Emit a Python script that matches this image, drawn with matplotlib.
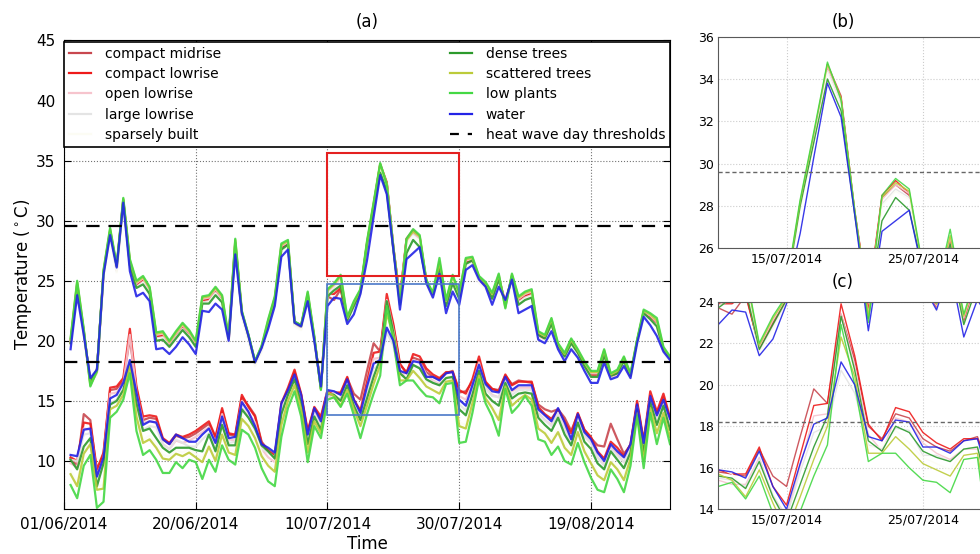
import matplotlib.pyplot as plt
import matplotlib.dates as mdates
from matplotlib.lines import Line2D
from matplotlib.patches import Rectangle
import pandas as pd

# one value per day, 01/06/2014 - 31/08/2014
days = pd.date_range('2014-06-01', periods=92, freq='D')

# daily maximum temperature per local climate zone
compact_midrise_max = [19.9, 24.7, 20.7, 16.5, 17.6, 25.6, 29.1, 26.1, 31.7, 26.5,
                       24.7, 25.1, 24.2, 20.4, 20.5, 19.7, 20.5, 21.2, 20.6, 19.7,
                       23.4, 23.5, 24.2, 23.5, 20.1, 28.2, 22.3, 20.3, 18.2, 19.4,
                       21.5, 23.4, 27.8, 28.1, 21.5, 21.2, 23.8, 20.2, 16.1, 23.7,
                       23.4, 24.3, 21.8, 23.0, 24.1, 28.1, 31.3, 34.7, 33.2, 27.8,
                       23.5, 28.4, 29.0, 28.5, 25.0, 23.8, 26.4, 23.1, 25.2, 23.7,
                       26.6, 26.7, 25.1, 24.6, 23.7, 25.3, 23.1, 25.3, 23.4, 23.8,
                       24.0, 20.5, 20.2, 21.6, 19.6, 18.7, 19.9, 19.0, 18.0, 17.2,
                       17.2, 19.0, 17.1, 17.3, 18.4, 17.1, 19.9, 22.4, 22.0, 21.5,
                       19.3, 18.5]
compact_lowrise_max = [19.8, 24.6, 20.6, 16.6, 17.5, 25.5, 29.0, 25.9, 31.6, 26.4,
                       24.6, 25.0, 24.1, 20.3, 20.4, 19.6, 20.4, 21.1, 20.5, 19.6,
                       23.3, 23.4, 24.1, 23.4, 20.0, 28.1, 22.2, 20.2, 18.1, 19.3,
                       21.4, 23.3, 27.7, 28.0, 21.4, 21.1, 23.7, 20.1, 16.2, 23.9,
                       23.9, 24.4, 21.7, 22.9, 24.0, 28.0, 31.2, 34.6, 33.1, 27.7,
                       23.6, 28.5, 29.2, 28.6, 24.9, 23.7, 26.3, 23.0, 25.1, 23.6,
                       26.5, 26.6, 25.0, 24.5, 23.6, 25.2, 23.2, 25.2, 23.3, 23.7,
                       23.9, 20.4, 20.1, 21.5, 19.5, 18.6, 19.8, 18.9, 17.9, 17.1,
                       17.1, 18.9, 17.0, 17.2, 18.3, 17.0, 19.8, 22.3, 21.9, 21.4,
                       19.2, 18.4]
open_lowrise_max = [20.0, 24.8, 20.8, 16.5, 17.5, 25.7, 29.2, 26.1, 31.8, 26.6,
                    24.8, 25.2, 24.3, 20.5, 20.6, 19.8, 20.6, 21.3, 20.7, 19.8,
                    23.5, 23.6, 24.3, 23.6, 20.1, 28.3, 22.3, 20.3, 18.2, 19.4,
                    21.6, 23.5, 27.9, 28.2, 21.5, 21.2, 23.9, 20.2, 16.1, 24.1,
                    24.6, 25.3, 21.8, 23.1, 24.2, 28.1, 31.3, 34.6, 33.0, 27.7,
                    23.4, 28.3, 29.0, 28.6, 25.0, 23.8, 26.5, 23.2, 25.3, 23.8,
                    26.7, 26.8, 25.2, 24.7, 23.8, 25.4, 23.0, 25.4, 23.5, 23.9,
                    24.1, 20.6, 20.3, 21.7, 19.6, 18.8, 20.0, 19.1, 18.1, 17.3,
                    17.3, 19.1, 17.1, 17.4, 18.5, 17.1, 19.9, 22.4, 22.1, 21.6,
                    19.3, 18.5]
large_lowrise_max = [19.7, 24.5, 20.5, 16.4, 17.3, 25.4, 28.9, 25.8, 31.5, 26.3,
                     24.5, 24.9, 24.0, 20.2, 20.3, 19.5, 20.3, 21.0, 20.4, 19.5,
                     23.2, 23.3, 24.0, 23.3, 19.9, 28.0, 22.1, 20.1, 18.0, 19.2,
                     21.3, 23.2, 27.6, 27.9, 21.3, 21.0, 23.6, 20.0, 16.0, 23.8,
                     24.3, 25.0, 21.6, 22.8, 24.0, 27.9, 31.1, 34.4, 32.8, 27.6,
                     23.2, 28.1, 28.8, 28.4, 24.8, 23.6, 26.2, 22.9, 25.0, 23.5,
                     26.4, 26.5, 24.9, 24.4, 23.5, 25.1, 22.9, 25.1, 23.2, 23.6,
                     23.8, 20.3, 20.0, 21.4, 19.4, 18.5, 19.7, 18.8, 17.8, 17.0,
                     17.0, 18.8, 16.9, 17.1, 18.2, 16.9, 19.7, 22.2, 21.8, 21.3,
                     19.1, 18.3]
sparsely_built_max = [19.6, 24.4, 20.4, 16.5, 17.4, 25.3, 28.8, 25.7, 31.4, 26.2,
                      24.4, 24.8, 23.9, 20.1, 20.2, 19.4, 20.2, 20.9, 20.3, 19.4,
                      23.1, 23.2, 23.9, 23.2, 19.8, 27.9, 22.0, 20.0, 17.9, 19.1,
                      21.2, 23.1, 27.5, 27.8, 21.2, 20.9, 23.5, 19.9, 16.1, 23.7,
                      24.2, 24.9, 21.5, 22.7, 23.9, 27.8, 31.0, 34.3, 32.7, 27.5,
                      23.1, 28.0, 28.7, 28.3, 24.7, 23.5, 26.1, 22.8, 24.9, 23.4,
                      26.3, 26.4, 24.8, 24.3, 23.4, 25.0, 23.0, 25.0, 23.1, 23.5,
                      23.7, 20.2, 19.9, 21.3, 19.3, 18.4, 19.6, 18.7, 17.7, 16.9,
                      16.9, 18.7, 16.8, 17.0, 18.1, 16.8, 19.6, 22.1, 21.7, 21.2,
                      19.0, 18.2]
dense_trees_max = [19.8, 24.4, 20.8, 16.6, 17.6, 25.7, 29.1, 26.2, 31.7, 26.3,
                   24.4, 24.7, 23.9, 20.0, 20.1, 19.5, 20.2, 20.9, 20.3, 19.5,
                   23.1, 23.1, 23.8, 23.2, 20.2, 27.9, 22.4, 20.5, 18.3, 19.5,
                   21.4, 23.3, 27.6, 28.0, 21.6, 21.3, 23.7, 20.2, 16.0, 23.7,
                   24.2, 24.6, 21.7, 22.9, 24.1, 28.0, 31.0, 34.0, 32.5, 27.6,
                   23.2, 27.3, 28.4, 27.8, 25.0, 23.9, 26.2, 22.9, 24.8, 23.5,
                   26.4, 26.7, 25.3, 24.7, 23.5, 25.1, 23.1, 25.4, 23.0, 23.4,
                   23.6, 20.5, 20.2, 21.4, 19.6, 18.7, 19.8, 19.0, 17.9, 17.0,
                   17.0, 18.8, 17.1, 17.3, 18.3, 17.1, 20.0, 22.3, 21.8, 21.2,
                   19.3, 18.6]
scattered_trees_max = [20.1, 24.9, 20.9, 16.3, 17.4, 25.8, 29.3, 26.2, 31.8, 26.7,
                       24.9, 25.3, 24.4, 20.6, 20.7, 19.9, 20.7, 21.4, 20.8, 19.9,
                       23.6, 23.7, 24.4, 23.7, 20.2, 28.4, 22.4, 20.4, 18.2, 19.5,
                       21.7, 23.6, 28.0, 28.3, 21.5, 21.2, 24.0, 20.3, 16.0, 24.2,
                       24.7, 25.4, 21.9, 23.2, 24.2, 28.2, 31.4, 34.7, 33.1, 27.8,
                       23.3, 28.4, 29.1, 28.7, 25.0, 23.9, 26.6, 23.3, 25.4, 23.9,
                       26.8, 26.9, 25.3, 24.8, 23.9, 25.5, 22.8, 25.5, 23.6, 24.0,
                       24.2, 20.7, 20.4, 21.8, 19.7, 18.9, 20.1, 19.2, 18.2, 17.4,
                       17.4, 19.2, 17.2, 17.5, 18.6, 17.2, 20.0, 22.5, 22.2, 21.7,
                       19.4, 18.6]
low_plants_max = [20.2, 25.0, 21.0, 16.2, 17.5, 25.9, 29.4, 26.3, 31.9, 26.8,
                  25.0, 25.4, 24.5, 20.7, 20.8, 20.0, 20.8, 21.5, 20.9, 20.0,
                  23.7, 23.8, 24.5, 23.8, 20.3, 28.5, 22.5, 20.5, 18.3, 19.6,
                  21.8, 23.7, 28.1, 28.4, 21.6, 21.3, 24.1, 20.4, 15.9, 24.3,
                  24.8, 25.5, 22.0, 23.3, 24.3, 28.3, 31.5, 34.8, 33.0, 27.8,
                  23.0, 28.5, 29.3, 28.8, 25.1, 24.0, 26.9, 23.4, 25.5, 24.0,
                  26.9, 27.0, 25.4, 24.9, 24.0, 25.6, 22.7, 25.6, 23.7, 24.1,
                  24.3, 20.8, 20.5, 21.9, 19.8, 19.0, 20.2, 19.3, 18.3, 17.5,
                  17.5, 19.3, 17.3, 17.6, 18.7, 17.3, 20.1, 22.6, 22.3, 21.9,
                  19.5, 18.7]
water_max = [19.3, 23.8, 20.5, 16.9, 17.6, 25.5, 28.8, 26.1, 31.5, 25.8,
             23.7, 24.0, 23.3, 19.3, 19.4, 18.9, 19.5, 20.3, 19.7, 18.9,
             22.5, 22.4, 23.1, 22.6, 20.0, 27.2, 22.3, 20.4, 18.2, 19.4,
             21.0, 22.9, 27.0, 27.6, 21.5, 21.2, 23.3, 20.0, 16.2, 22.9,
             23.6, 23.5, 21.4, 22.2, 23.9, 26.7, 30.3, 33.8, 32.2, 27.6,
             22.6, 26.8, 27.3, 27.8, 24.8, 23.6, 25.6, 22.3, 24.1, 23.0,
             25.9, 26.3, 25.1, 24.5, 23.0, 24.5, 23.4, 25.1, 22.3, 22.6,
             22.9, 20.1, 19.8, 20.8, 19.3, 18.3, 19.3, 18.6, 17.5, 16.5,
             16.5, 18.2, 16.8, 17.0, 17.9, 16.9, 19.8, 22.0, 21.3, 20.4,
             19.1, 18.4]

# daily minimum temperature per local climate zone
compact_midrise_min = [10.2, 9.6, 13.9, 13.4, 8.9, 10.6, 15.9, 16.0, 16.7, 20.2,
                       16.0, 13.4, 13.6, 13.5, 11.8, 11.4, 12.1, 11.9, 12.0, 12.3,
                       12.7, 13.1, 11.9, 14.2, 12.2, 12.1, 15.3, 14.6, 13.8, 11.6,
                       10.9, 10.5, 14.6, 15.9, 17.4, 15.5, 12.4, 14.4, 13.5, 15.8,
                       15.7, 15.6, 16.9, 15.6, 15.1, 17.5, 19.8, 19.1, 23.4, 21.2,
                       18.0, 17.4, 18.6, 18.4, 17.4, 17.0, 16.8, 17.3, 17.5, 15.7,
                       15.8, 16.6, 18.4, 16.5, 16.0, 15.9, 17.1, 16.4, 16.7, 16.6,
                       16.5, 14.7, 14.3, 14.1, 14.3, 13.6, 12.5, 13.9, 12.6, 11.9,
                       11.3, 11.2, 13.1, 11.8, 10.6, 11.3, 14.8, 11.6, 15.4, 13.9,
                       15.3, 13.4]
compact_lowrise_min = [10.3, 10.0, 13.2, 13.1, 9.3, 10.7, 16.1, 16.2, 16.9, 21.0,
                       16.2, 13.7, 13.8, 13.7, 11.9, 11.5, 12.2, 12.0, 12.2, 12.5,
                       12.9, 13.3, 12.0, 14.4, 12.3, 12.2, 15.5, 14.5, 13.7, 11.5,
                       10.8, 10.4, 14.8, 16.1, 17.6, 15.6, 12.5, 14.5, 13.7, 15.9,
                       15.7, 15.7, 17.0, 15.1, 14.2, 16.6, 19.0, 19.1, 23.9, 21.4,
                       18.1, 17.3, 18.9, 18.7, 17.7, 17.2, 16.9, 17.4, 17.4, 15.9,
                       15.6, 16.8, 18.7, 16.6, 16.0, 15.8, 17.2, 16.3, 16.6, 16.6,
                       16.6, 14.5, 13.9, 13.5, 14.3, 13.3, 12.3, 14.0, 12.6, 12.0,
                       10.8, 10.2, 11.6, 11.1, 10.4, 11.4, 15.0, 11.7, 15.8, 14.1,
                       15.6, 13.6]
open_lowrise_min = [9.8, 9.5, 12.7, 12.6, 8.8, 10.2, 15.6, 15.7, 16.4, 20.5,
                    15.7, 13.2, 13.3, 13.2, 11.4, 11.0, 11.7, 11.5, 11.7, 12.0,
                    12.4, 12.8, 11.5, 13.9, 11.8, 11.7, 15.0, 14.0, 13.2, 11.0,
                    10.3, 9.9, 14.3, 15.6, 17.1, 15.1, 12.0, 14.0, 13.2, 15.4,
                    15.2, 15.2, 16.5, 14.6, 13.7, 16.1, 18.5, 18.6, 23.4, 20.9,
                    17.6, 16.8, 18.4, 18.2, 17.2, 16.7, 16.4, 16.9, 16.9, 15.4,
                    15.1, 16.3, 18.2, 16.1, 15.5, 15.3, 16.7, 15.8, 16.1, 16.1,
                    16.1, 14.0, 13.4, 13.0, 13.8, 12.8, 11.8, 13.5, 12.1, 11.5,
                    10.3, 9.7, 11.2, 10.6, 9.9, 10.9, 14.5, 11.1, 15.3, 13.6,
                    15.0, 13.0]
large_lowrise_min = [10.1, 10.0, 12.2, 12.3, 8.3, 9.9, 14.8, 15.1, 16.1, 18.0,
                     15.3, 12.6, 12.9, 12.8, 11.4, 11.0, 11.8, 11.5, 11.2, 11.2,
                     11.8, 12.3, 11.1, 13.3, 11.5, 11.6, 14.5, 13.7, 12.5, 11.0,
                     10.7, 10.3, 14.4, 15.5, 16.8, 15.1, 11.8, 14.0, 12.9, 15.5,
                     15.4, 15.1, 16.4, 14.7, 13.6, 15.8, 17.7, 18.0, 20.7, 19.6,
                     17.1, 16.9, 17.9, 17.8, 16.6, 16.6, 16.3, 16.9, 17.0, 14.7,
                     14.2, 15.9, 17.6, 16.0, 15.4, 15.3, 16.6, 15.5, 15.9, 15.9,
                     15.9, 13.9, 13.4, 12.9, 14.0, 12.6, 11.6, 13.5, 12.0, 11.5,
                     10.3, 9.6, 11.0, 10.4, 9.9, 11.0, 14.4, 11.1, 15.0, 13.4,
                     14.7, 13.0]
sparsely_built_min = [9.2, 8.2, 10.9, 11.7, 7.9, 8.0, 14.6, 14.9, 15.8, 18.2,
                      14.0, 11.8, 12.1, 11.4, 10.5, 10.4, 10.9, 10.7, 11.0, 10.6,
                      10.2, 11.5, 10.3, 12.5, 11.0, 10.8, 13.8, 13.2, 12.2, 10.7,
                      9.9, 9.4, 13.3, 15.3, 16.6, 14.6, 11.0, 13.6, 12.6, 16.0,
                      15.7, 14.9, 16.2, 14.6, 13.2, 14.9, 16.7, 18.3, 22.6, 20.7,
                      17.0, 17.0, 17.8, 17.2, 16.5, 16.2, 15.9, 16.9, 17.0, 13.2,
                      13.0, 15.1, 17.4, 15.5, 14.7, 13.7, 16.5, 14.9, 15.4, 15.8,
                      15.4, 13.0, 12.6, 11.8, 12.7, 11.4, 10.8, 12.7, 11.1, 10.1,
                      9.1, 8.7, 10.2, 9.6, 8.7, 10.5, 14.3, 10.3, 14.7, 12.6,
                      14.3, 12.3]
dense_trees_min = [10.1, 9.3, 11.2, 11.9, 7.9, 9.8, 14.7, 15.0, 15.9, 18.1,
                   14.8, 12.5, 12.7, 11.9, 11.1, 10.7, 11.1, 11.1, 11.1, 10.9,
                   10.8, 12.2, 10.8, 13.0, 11.3, 11.3, 14.3, 13.6, 12.7, 11.3,
                   10.8, 10.2, 13.9, 15.5, 16.8, 14.8, 11.4, 13.7, 12.6, 15.6,
                   15.5, 15.0, 16.3, 14.6, 13.4, 15.2, 17.0, 18.5, 23.3, 20.7,
                   17.3, 16.8, 18.0, 17.7, 16.8, 16.5, 16.3, 16.9, 17.0, 14.3,
                   13.8, 15.5, 17.5, 15.6, 15.0, 14.6, 16.5, 15.2, 15.6, 15.7,
                   15.6, 13.6, 13.0, 12.5, 13.6, 12.2, 11.3, 13.2, 11.6, 11.0,
                   9.8, 9.3, 10.8, 10.1, 9.4, 10.7, 14.3, 10.6, 14.9, 13.0,
                   14.6, 12.6]
scattered_trees_min = [8.9, 7.9, 10.6, 11.4, 7.6, 7.7, 14.3, 14.6, 15.5, 17.9,
                       13.7, 11.5, 11.8, 11.1, 10.2, 10.1, 10.6, 10.4, 10.7, 10.3,
                       9.9, 11.2, 10.0, 12.2, 10.7, 10.5, 13.5, 12.9, 11.9, 10.4,
                       9.6, 9.1, 13.0, 15.0, 16.3, 14.3, 10.7, 13.3, 12.3, 15.7,
                       15.4, 14.6, 15.9, 14.3, 12.9, 14.6, 16.4, 18.0, 22.3, 20.4,
                       16.7, 16.7, 17.5, 16.9, 16.2, 15.9, 15.6, 16.6, 16.7, 12.9,
                       12.7, 14.8, 17.1, 15.2, 14.4, 13.4, 16.2, 14.6, 15.1, 15.5,
                       15.1, 12.7, 12.3, 11.5, 12.4, 11.1, 10.5, 12.4, 10.8, 9.8,
                       8.8, 8.4, 9.9, 9.3, 8.4, 10.2, 14.0, 10.0, 14.4, 12.3,
                       14.0, 12.0]
low_plants_min = [8.0, 6.9, 9.6, 10.5, 6.1, 6.6, 13.6, 14.1, 15.1, 17.3,
                  12.5, 10.5, 10.9, 10.1, 9.0, 9.0, 9.9, 9.4, 10.1, 9.9,
                  8.5, 10.1, 9.1, 11.3, 10.1, 9.7, 12.6, 12.2, 11.1, 9.4,
                  8.3, 7.9, 12.0, 14.4, 15.8, 13.7, 9.9, 12.9, 11.9, 15.1,
                  15.3, 14.5, 15.6, 13.8, 11.9, 13.9, 15.6, 17.1, 22.9, 20.0,
                  16.3, 16.7, 16.7, 16.0, 15.4, 15.3, 14.8, 16.4, 16.5, 11.5,
                  11.6, 14.0, 16.8, 14.8, 13.7, 12.1, 16.0, 14.0, 14.6, 15.4,
                  14.6, 11.8, 11.6, 10.5, 11.2, 10.0, 9.7, 11.5, 9.9, 8.6,
                  7.6, 7.4, 9.3, 8.5, 7.4, 9.6, 13.8, 9.4, 14.0, 11.4,
                  13.6, 11.4]
water_min = [10.5, 10.4, 12.6, 12.7, 8.7, 10.3, 15.2, 15.5, 16.5, 18.4,
             15.7, 13.0, 13.3, 13.2, 11.8, 11.4, 12.2, 11.9, 11.6, 11.6,
             12.2, 12.7, 11.5, 13.7, 11.9, 12.0, 14.9, 14.1, 12.9, 11.4,
             11.1, 10.7, 14.8, 15.9, 17.2, 15.5, 12.2, 14.4, 13.3, 15.9,
             15.8, 15.5, 16.8, 15.1, 14.0, 16.2, 18.1, 18.4, 21.1, 20.0,
             17.5, 17.3, 18.3, 18.2, 17.0, 17.0, 16.7, 17.3, 17.4, 15.1,
             14.6, 16.3, 18.0, 16.4, 15.8, 15.7, 17.0, 15.9, 16.3, 16.3,
             16.3, 14.3, 13.8, 13.3, 14.4, 13.2, 11.8, 13.9, 12.4, 11.8,
             10.7, 10.0, 11.4, 10.8, 10.3, 11.4, 14.7, 11.5, 15.4, 13.8,
             15.1, 13.5]

class_names = ['compact midrise', 'compact lowrise', 'open lowrise', 'large lowrise',
               'sparsely built', 'dense trees', 'scattered trees', 'low plants', 'water']
class_colors = ['#c8474f', '#ee1a1a', '#f6c4cd', '#e4e4e4', '#fcfcf4',
                '#2c9a2c', '#bccb3a', '#44d844', '#2323e6']
max_series = [compact_midrise_max, compact_lowrise_max, open_lowrise_max, large_lowrise_max,
              sparsely_built_max, dense_trees_max, scattered_trees_max, low_plants_max, water_max]
min_series = [compact_midrise_min, compact_lowrise_min, open_lowrise_min, large_lowrise_min,
              sparsely_built_min, dense_trees_min, scattered_trees_min, low_plants_min, water_min]

# heat wave day thresholds (Tmax, Tmin)
thresholds = [29.6, 18.2]

main_ticks = pd.to_datetime(['2014-05-31', '2014-06-20', '2014-07-10', '2014-07-30', '2014-08-19'])
main_tick_labels = ['01/06/2014', '20/06/2014', '10/07/2014', '30/07/2014', '19/08/2014']
zoom_ticks = pd.to_datetime(['2014-07-15', '2014-07-25'])
zoom_tick_labels = ['15/07/2014', '25/07/2014']
zoom_start = pd.Timestamp('2014-07-10')
zoom_end = pd.Timestamp('2014-07-30')
hot_box = (25.4, 35.6)
cool_box = (13.8, 24.7)


fig = plt.figure(figsize=(9.8, 5.54), dpi=100)

# ---- (a) full summer
ax = fig.add_axes([0.0653, 0.0812, 0.6184, 0.8457])
for vals_max, vals_min, c in zip(max_series, min_series, class_colors):
    ax.plot(days[:len(vals_max)], vals_max, color=c, lw=1.6, alpha=0.9)
    ax.plot(days[:len(vals_min)], vals_min, color=c, lw=1.6, alpha=0.9)
for t in thresholds:
    ax.axhline(t, color='k', lw=1.6, ls=(0, (6, 4)))

x0 = mdates.date2num(zoom_start)
w = mdates.date2num(zoom_end) - x0
ax.add_patch(Rectangle((x0, hot_box[0]), w, hot_box[1] - hot_box[0],
                       fill=False, edgecolor='#e42020', lw=1.5, zorder=5))
ax.add_patch(Rectangle((x0, cool_box[0]), w, cool_box[1] - cool_box[0],
                       fill=False, edgecolor='#4a78c8', lw=1.2, zorder=5))

ax.set_xlim(pd.Timestamp('2014-05-31'), days[-1])
ax.set_ylim(6, 45)
ax.set_yticks(range(10, 46, 5))
ax.set_xticks(main_ticks)
ax.set_xticklabels(main_tick_labels)
ax.tick_params(direction='in', top=True, right=True, length=5, labelsize=11, pad=6)
ax.grid(True, linestyle=':', color='0.45', lw=0.8)
ax.set_axisbelow(True)
ax.set_xlabel('Time', fontsize=12, labelpad=2)
ax.set_ylabel('Temperature ($^\\circ$C)', fontsize=12, labelpad=2)
ax.set_title('(a)', fontsize=12, pad=10)

handles = [Line2D([], [], color=c, lw=1.6) for c in class_colors]
handles.append(Line2D([], [], color='k', lw=1.6, ls=(0, (4, 4))))
labels = class_names + ['heat wave day thresholds']
leg = ax.legend(handles, labels, ncol=2, mode='expand', loc='lower left',
                bbox_to_anchor=(0, 0.7733, 1, 0.2267), borderaxespad=0,
                fontsize=10, labelspacing=0.45, handlelength=1.6, handletextpad=1.0,
                borderpad=0.35, fancybox=False, framealpha=1, edgecolor='k')
leg.get_frame().set_linewidth(1.2)

# ---- (b) and (c) zoom on the heat wave
for rect, ylim, t in [([0.733, 0.5518, 0.2783, 0.382], (26, 36), thresholds[0]),
                      ([0.733, 0.0807, 0.2783, 0.3747], (14, 24), thresholds[1])]:
    axz = fig.add_axes(rect)
    for vals_max, vals_min, c in zip(max_series, min_series, class_colors):
        axz.plot(days[:len(vals_max)], vals_max, color=c, lw=1.0, alpha=0.9)
        axz.plot(days[:len(vals_min)], vals_min, color=c, lw=1.0, alpha=0.9)
    axz.axhline(t, color='0.4', lw=1.0, ls=(0, (3, 2)))
    axz.set_xlim(zoom_start, zoom_end)
    axz.set_ylim(*ylim)
    axz.set_yticks(range(ylim[0], ylim[1] + 1, 2))
    axz.set_xticks(zoom_ticks)
    axz.set_xticklabels(zoom_tick_labels)
    axz.tick_params(length=0, labelsize=9, pad=3)
    axz.grid(True, linestyle=':', color='0.8', lw=0.8)
    for s in axz.spines.values():
        s.set_color('0.35')
        s.set_linewidth(0.8)

fig.text(843 / 980, 0.961, '(b)', ha='center', va='center', fontsize=12)
fig.text(843 / 980, 0.491, '(c)', ha='center', va='center', fontsize=12)

fig.savefig('out.png', dpi=100)
